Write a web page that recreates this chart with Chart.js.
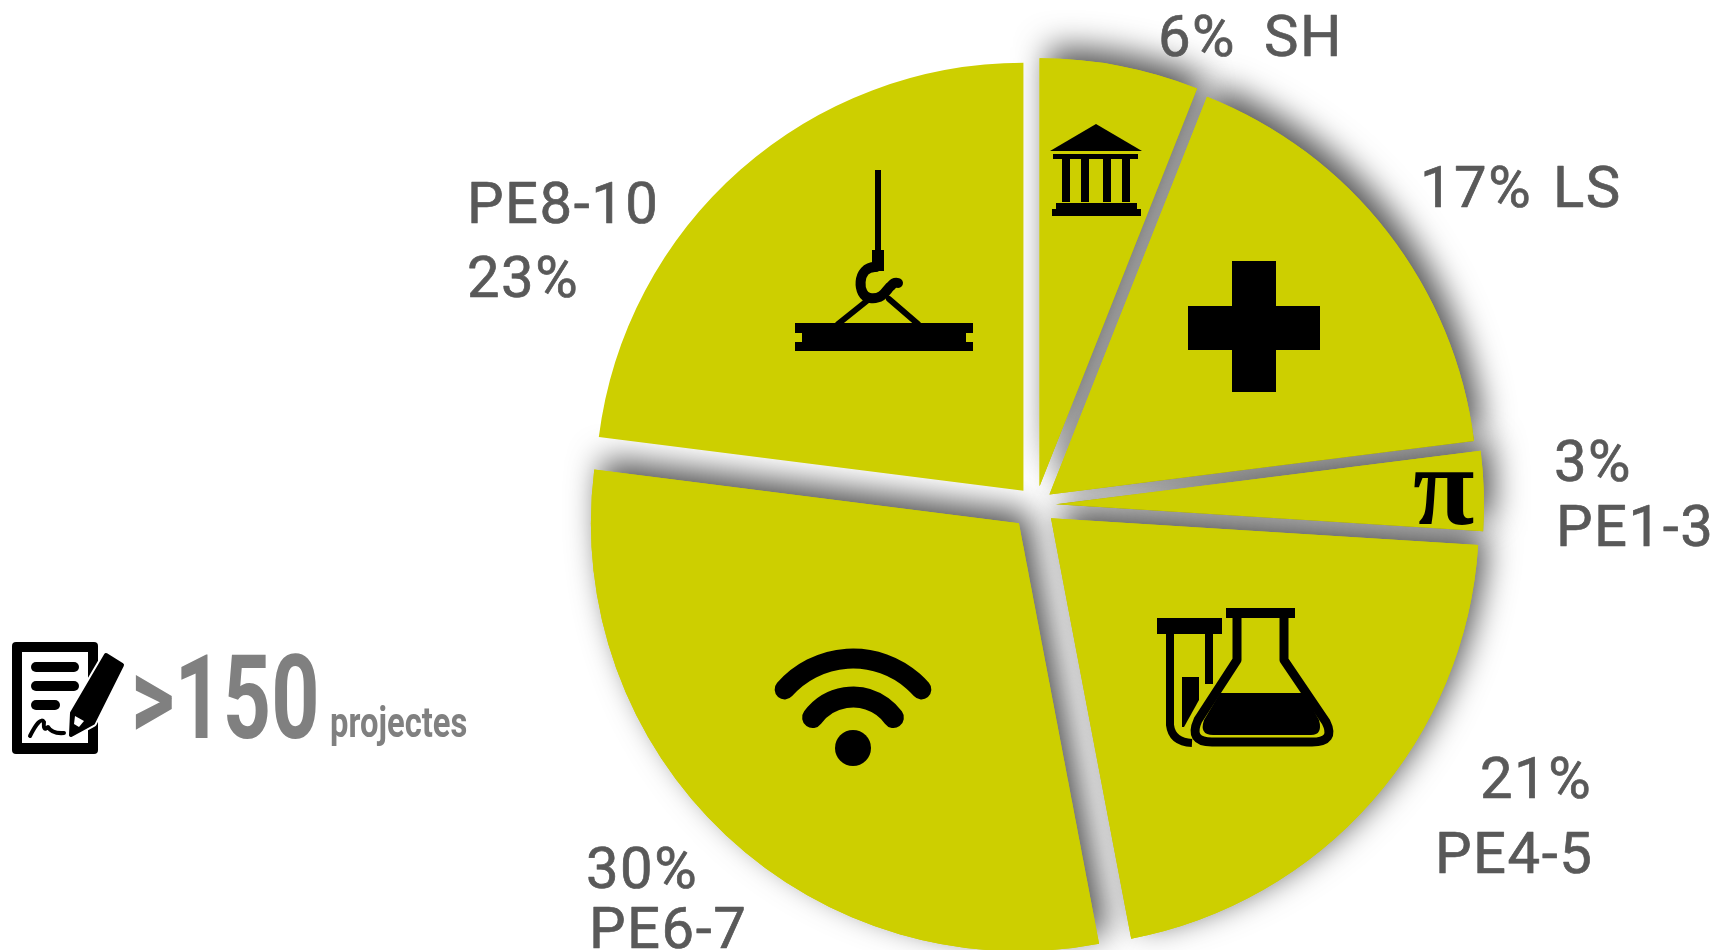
<!DOCTYPE html>
<html>
<head>
<meta charset="utf-8">
<title>Projectes</title>
<style>
  html, body { margin: 0; padding: 0; background: #fff; overflow: hidden; }
  canvas { display: block; }
</style>
<script src="https://cdn.jsdelivr.net/npm/chart.js@4"></script>
</head>
<body>
<canvas id="pie" width="1719" height="950"></canvas>
<script>
const categories = ["SH", "LS", "PE1-3", "PE4-5", "PE6-7", "PE8-10"];
const values = [6, 17, 3, 21, 30, 23];
const projectCount = ">150";
const projectWord = "projectes";

const yellow = "#cdcf00";
const labelGrey = "#595959";
const bigGrey = "#808080";
const labelFont = "400 58px Roboto";

// how far every slice is pulled out, in px. The offset option of Chart.js
// also grows the radius of thin slices so it is done here instead
const explode = [19, 17, 20, 20, 25, 19];

// label lines, %d is the value and %c the category
const labelLayout = [
  { lines: [{ t: "%d%", x: 1158, y: 56 }, { t: "%c", x: 1264, y: 56 }] },
  { lines: [{ t: "%d%", x: 1420, y: 207 }, { t: "%c", x: 1553, y: 207 }] },
  { lines: [{ t: "%d%", x: 1554, y: 481 }, { t: "%c", x: 1556, y: 546 }] },
  { lines: [{ t: "%d%", x: 1480, y: 798 }, { t: "%c", x: 1435, y: 873 }] },
  { lines: [{ t: "%d%", x: 586, y: 888 }, { t: "%c", x: 589, y: 948 }] },
  { lines: [{ t: "%c", x: 467, y: 223 }, { t: "%d%", x: 467, y: 297 }] },
];

function drawArcPulled(ctx, arc, i, area) {
  const mid = (arc.startAngle + arc.endAngle) / 2;
  ctx.save();
  ctx.translate(Math.cos(mid) * explode[i], Math.sin(mid) * explode[i]);
  arc.draw(ctx, area);
  ctx.restore();
}

// slices with a grey shadow behind them, the last slice has none
const explodedSlices = {
  id: "explodedSlices",
  beforeDatasetDraw(chart) {
    const { ctx, chartArea } = chart;
    const arcs = chart.getDatasetMeta(0).data;
    ctx.save();
    ctx.shadowColor = "rgba(0,0,0,0.68)";
    ctx.shadowBlur = 32;
    ctx.shadowOffsetX = 9;
    ctx.shadowOffsetY = -11;
    arcs.forEach((arc, i) => {
      if (i < arcs.length - 1) drawArcPulled(ctx, arc, i, chartArea);
    });
    ctx.restore();
    arcs.forEach((arc, i) => drawArcPulled(ctx, arc, i, chartArea));
    return false;
  },
};

function rect(ctx, x0, y0, x1, y1) {
  ctx.fillRect(x0, y0, x1 - x0, y1 - y0);
}

function poly(ctx, pts) {
  ctx.beginPath();
  pts.forEach((p, i) => (i ? ctx.lineTo(p[0], p[1]) : ctx.moveTo(p[0], p[1])));
  ctx.closePath();
  ctx.fill();
}

function drawBank(ctx) {
  poly(ctx, [[1096, 124], [1142, 151], [1050, 151]]);
  rect(ctx, 1053, 154, 1138, 159);
  [1062, 1081, 1103, 1122].forEach((x) => rect(ctx, x, 159, x + 8, 202));
  rect(ctx, 1056, 203, 1137, 209);
  rect(ctx, 1052, 209, 1141, 216);
}

function drawPlus(ctx) {
  rect(ctx, 1232, 261, 1276, 392);
  rect(ctx, 1188, 306, 1320, 350);
}

function drawFlask(ctx) {
  rect(ctx, 1157, 618, 1222, 634);
  rect(ctx, 1226, 608, 1295, 618);
  ctx.lineWidth = 8;
  ctx.lineJoin = "round";
  // tube
  ctx.beginPath();
  ctx.moveTo(1170, 634);
  ctx.lineTo(1170, 725);
  ctx.quadraticCurveTo(1172, 742, 1192, 743);
  ctx.stroke();
  rect(ctx, 1205, 634, 1213, 684);
  poly(ctx, [[1182, 677], [1199, 677], [1199, 700], [1184, 727], [1182, 727]]);
  // flask
  ctx.lineWidth = 9;
  ctx.beginPath();
  ctx.moveTo(1237, 618);
  ctx.lineTo(1237, 660);
  ctx.lineTo(1198, 720);
  ctx.quadraticCurveTo(1188, 742, 1212, 742);
  ctx.lineTo(1312, 742);
  ctx.quadraticCurveTo(1336, 742, 1326, 722);
  ctx.lineTo(1284, 660);
  ctx.lineTo(1284, 618);
  ctx.stroke();
  ctx.beginPath();
  ctx.moveTo(1220, 693);
  ctx.lineTo(1304, 693);
  ctx.lineTo(1319, 720);
  ctx.quadraticCurveTo(1323, 735, 1311, 735);
  ctx.lineTo(1213, 735);
  ctx.quadraticCurveTo(1199, 735, 1204, 720);
  ctx.closePath();
  ctx.fill();
}

function drawWifi(ctx) {
  const up = -Math.PI / 2;
  ctx.lineCap = "round";
  ctx.lineWidth = 20;
  ctx.beginPath();
  ctx.arc(853, 749.5, 91, up - 0.85, up + 0.85);
  ctx.stroke();
  ctx.lineWidth = 21;
  ctx.beginPath();
  ctx.arc(853, 747, 50, up - 0.94, up + 0.94);
  ctx.stroke();
  ctx.beginPath();
  ctx.arc(853, 748, 18, 0, Math.PI * 2);
  ctx.fill();
}

function drawCrane(ctx) {
  rect(ctx, 875, 170, 881, 250);
  rect(ctx, 872, 250, 884, 271);
  // beam with the notches at its sides
  poly(ctx, [[795, 323], [973, 323], [973, 333], [966, 333], [966, 342], [973, 342], [973, 351],
    [795, 351], [795, 342], [802, 342], [802, 333], [795, 333]]);
  ctx.lineWidth = 6;
  ctx.beginPath();
  ctx.moveTo(838, 324);
  ctx.lineTo(868, 300);
  ctx.moveTo(918, 324);
  ctx.lineTo(889, 299);
  ctx.stroke();
  // hook
  ctx.lineWidth = 10;
  ctx.lineCap = "round";
  ctx.beginPath();
  ctx.moveTo(876, 267);
  ctx.bezierCurveTo(856, 266, 857, 297, 870, 298);
  ctx.bezierCurveTo(884, 300, 887, 288, 891, 286);
  ctx.quadraticCurveTo(894, 282, 898, 283);
  ctx.stroke();
  ctx.lineCap = "butt";
}

function drawDocument(ctx) {
  ctx.fillStyle = "#000";
  ctx.beginPath();
  ctx.roundRect(12, 642, 86, 112, 4);
  ctx.fill();
  ctx.fillStyle = "#fff";
  rect(ctx, 22, 652, 88, 743);
  ctx.fillStyle = "#000";
  ctx.lineCap = "round";
  [[36, 74, 667], [36, 74, 686], [36, 55, 705]].forEach((l) => {
    ctx.lineWidth = 10;
    ctx.beginPath();
    ctx.moveTo(l[0], l[2]);
    ctx.lineTo(l[1], l[2]);
    ctx.stroke();
  });
  // signature
  ctx.lineWidth = 4;
  ctx.beginPath();
  ctx.moveTo(30, 736);
  ctx.quadraticCurveTo(40, 716, 44, 722);
  ctx.quadraticCurveTo(43, 732, 48, 727);
  ctx.quadraticCurveTo(52, 734, 64, 733);
  ctx.stroke();
  // pencil with white edge
  ctx.lineCap = "butt";
  ctx.lineJoin = "round";
  const pencil = [[106, 655], [122, 665], [93, 723], [71, 735], [72, 713]];
  ctx.strokeStyle = "#fff";
  ctx.lineWidth = 8;
  ctx.beginPath();
  pencil.forEach((p, i) => (i ? ctx.lineTo(p[0], p[1]) : ctx.moveTo(p[0], p[1])));
  ctx.closePath();
  ctx.stroke();
  ctx.fillStyle = "#000";
  ctx.strokeStyle = "#000";
  ctx.lineWidth = 4;
  poly(ctx, pencil);
  ctx.stroke();
  ctx.fillStyle = "#fff";
  poly(ctx, [[75, 716], [84, 721], [79, 727], [74, 724]]);
}

// >150 projectes is squeezed, no DIN condensed font here
function squeezedText(ctx, text, x, y, font, scaleX) {
  ctx.save();
  ctx.translate(x, y);
  ctx.scale(scaleX, 1);
  ctx.font = font;
  ctx.fillText(text, 0, 0);
  ctx.restore();
}

const decorations = {
  id: "decorations",
  afterDraw(chart) {
    const { ctx } = chart;
    ctx.save();
    ctx.fillStyle = "#000";
    ctx.strokeStyle = "#000";
    drawBank(ctx);
    drawPlus(ctx);
    drawFlask(ctx);
    drawWifi(ctx);
    drawCrane(ctx);
    ctx.font = "bold 112px 'Liberation Serif'";
    ctx.textAlign = "left";
    ctx.textBaseline = "alphabetic";
    ctx.fillText("π", 1413, 524);
    drawDocument(ctx);

    ctx.fillStyle = labelGrey;
    ctx.strokeStyle = labelGrey;
    ctx.lineWidth = 0.7;
    ctx.font = labelFont;
    ctx.letterSpacing = "1.5px";
    labelLayout.forEach((item, i) => {
      item.lines.forEach((line) => {
        const text = line.t.replace("%d", values[i]).replace("%c", categories[i]);
        ctx.fillText(text, line.x, line.y);
        ctx.strokeText(text, line.x, line.y);
      });
    });
    ctx.letterSpacing = "0px";

    ctx.fillStyle = bigGrey;
    squeezedText(ctx, projectCount, 131, 738, "bold 117px Roboto", 0.72);
    squeezedText(ctx, projectWord, 330, 737, "bold 42px Roboto", 0.78);
    ctx.restore();
  },
};

const pie = new Chart(document.getElementById("pie"), {
  type: "pie",
  data: {
    labels: categories,
    datasets: [
      {
        data: values,
        backgroundColor: yellow,
        borderWidth: 0,
        radius: 428,
      },
    ],
  },
  options: {
    responsive: false,
    animation: false,
    events: [],
    layout: {
      padding: { left: 353, top: 60 },
    },
    plugins: {
      legend: { display: false },
      tooltip: { enabled: false },
    },
  },
  plugins: [explodedSlices, decorations],
});
</script>
</body>
</html>
